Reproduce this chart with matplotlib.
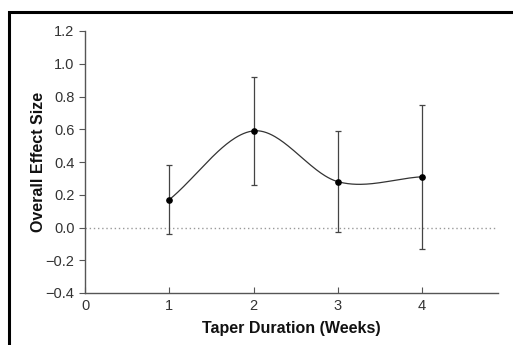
import matplotlib
matplotlib.use("Agg")
import matplotlib.pyplot as plt
from matplotlib.patches import Rectangle
import numpy as np

plt.rcParams["font.family"] = ["Liberation Sans", "DejaVu Sans"]

weeks = [1, 2, 3, 4]
effect = [0.17, 0.59, 0.28, 0.31]
ci_low = [-0.04, 0.26, -0.03, -0.13]
ci_high = [0.38, 0.92, 0.59, 0.75]

y_ticks = [-0.4, -0.2, 0.0, 0.2, 0.4, 0.6, 0.8, 1.0, 1.2]
y_tick_labels = ["\u22120.4", "\u22120.2", "0.0", "0.2", "0.4", "0.6", "0.8", "1.0", "1.2"]
x_ticks = [0, 1, 2, 3, 4]


def smooth_curve(x, y, n=60):
    # Catmull-Rom style hermite curve through the points
    x = np.asarray(x, float)
    y = np.asarray(y, float)
    k = len(x)
    m = np.zeros(k)
    m[0] = (y[1] - y[0]) / (x[1] - x[0])
    m[-1] = (y[-1] - y[-2]) / (x[-1] - x[-2])
    for i in range(1, k - 1):
        m[i] = (y[i + 1] - y[i - 1]) / (x[i + 1] - x[i - 1])
    xs_all, ys_all = [], []
    for i in range(k - 1):
        h = x[i + 1] - x[i]
        t = np.linspace(0, 1, n)
        h00 = 2 * t**3 - 3 * t**2 + 1
        h10 = t**3 - 2 * t**2 + t
        h01 = -2 * t**3 + 3 * t**2
        h11 = t**3 - t**2
        xs_all.append(x[i] + t * h)
        ys_all.append(h00 * y[i] + h10 * h * m[i] + h01 * y[i + 1] + h11 * h * m[i + 1])
    return np.concatenate(xs_all), np.concatenate(ys_all)


fig = plt.figure(figsize=(5.13, 3.45), dpi=100)
ax = fig.add_axes([85 / 513, 1 - 293 / 345, (498 - 85) / 513, (293 - 31) / 345])

# outer frame (cropped at right and bottom)
fig.patches.append(Rectangle((9 / 513, -0.1), 1.2, 1.1 - 12 / 345, transform=fig.transFigure,
                             fill=False, edgecolor="black", linewidth=2.2))

ax.axhline(0, color="#999999", linestyle=(0, (1, 2)), linewidth=1.0, zorder=1)

xs, ys = smooth_curve(weeks, effect)
ax.plot(xs, ys, color="#333333", linewidth=0.9, zorder=2)

err = [np.subtract(effect, ci_low), np.subtract(ci_high, effect)]
ax.errorbar(weeks, effect, yerr=err, fmt="o", color="black", ecolor="#444444",
            elinewidth=0.9, capsize=2.5, capthick=0.9, markersize=3.8, zorder=3)

ax.set_xlim(0, 4.9)
ax.set_ylim(-0.4, 1.2)
ax.set_xticks(x_ticks)
ax.set_yticks(y_ticks)
ax.set_yticklabels(y_tick_labels)

for s in ("top", "right"):
    ax.spines[s].set_visible(False)
for s in ("left", "bottom"):
    ax.spines[s].set_color("#555555")
    ax.spines[s].set_linewidth(1.0)
ax.tick_params(axis="y", direction="out", length=4, color="#555555", labelsize=10.5, labelcolor="#333333")
ax.tick_params(axis="x", direction="in", length=4, color="#555555", labelsize=10.5, labelcolor="#333333",
               pad=4)

ax.set_xlabel("Taper Duration (Weeks)", fontsize=11.5, fontweight="bold", labelpad=6, color="#111111")
ax.set_ylabel("Overall Effect Size", fontsize=11.5, fontweight="bold", labelpad=0, color="#111111")

fig.savefig("out.png", dpi=100)
